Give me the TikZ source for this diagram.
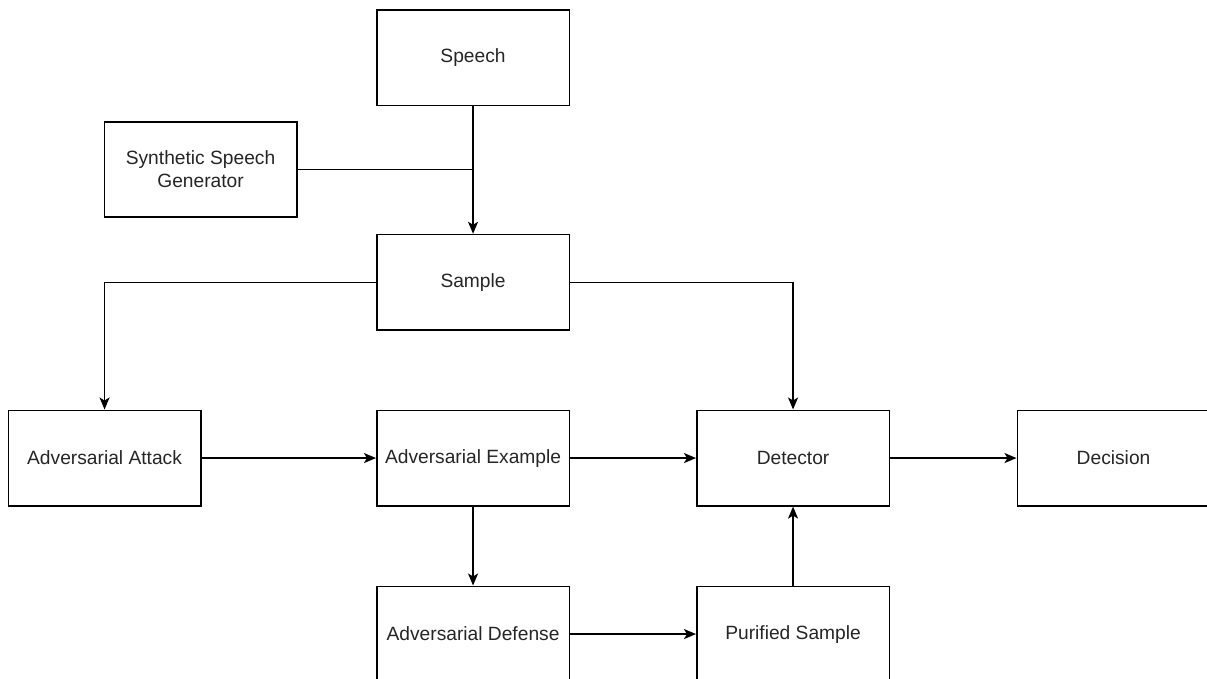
\documentclass[tikz,border=0pt]{standalone}
\usepackage{fontspec}
\setmainfont{Liberation Sans}
\usetikzlibrary{arrows.meta}
\begin{document}
\begin{tikzpicture}[x=1pt,y=-1pt,
  box/.style={draw=black, line width=1.6pt, minimum width=192.5pt, minimum height=95.5pt,
    inner sep=0pt, anchor=north west, align=center, text=black!85,
    font=\fontsize{19.2}{23}\selectfont},
  conn/.style={draw=black, line width=1.6pt},
  arr/.style={conn, -{Stealth[length=12pt,width=10pt,inset=3pt]}}]
\useasboundingbox (0,0) rectangle (1207,679);
\clip (0,0) rectangle (1207,679);
\fill[white] (0,0) rectangle (1207,679);
\node[box] (speech) at (376,9.3) {Speech};
\node[box] (ssg) at (103.5,121) {Synthetic Speech\\Generator};
\node[box] (sample) at (376,233.8) {Sample};
\node[box] (attack) at (7.5,409.5) {Adversarial Attack};
\node[box] (example) at (376,409.5) {Adversarial Example};
\node[box] (detector) at (696,409.5) {Detector};
\node[box] (decision) at (1016.5,409.5) {Decision};
\node[box] (defense) at (376,585.5) {Adversarial Defense};
\node[box] (purified) at (696,585.5) {Purified Sample};
\draw[arr] (speech.south) -- (sample.north);
\draw[conn] (ssg.east) -- (ssg.east -| speech.south);
\draw[arr] (sample.west) -| (attack.north);
\draw[arr] (sample.east) -| (detector.north);
\draw[arr] (attack.east) -- (example.west);
\draw[arr] (example.east) -- (detector.west);
\draw[arr] (detector.east) -- (decision.west);
\draw[arr] (example.south) -- (defense.north);
\draw[arr] (defense.east) -- (purified.west);
\draw[arr] (purified.north) -- (detector.south);
\end{tikzpicture}
\end{document}
